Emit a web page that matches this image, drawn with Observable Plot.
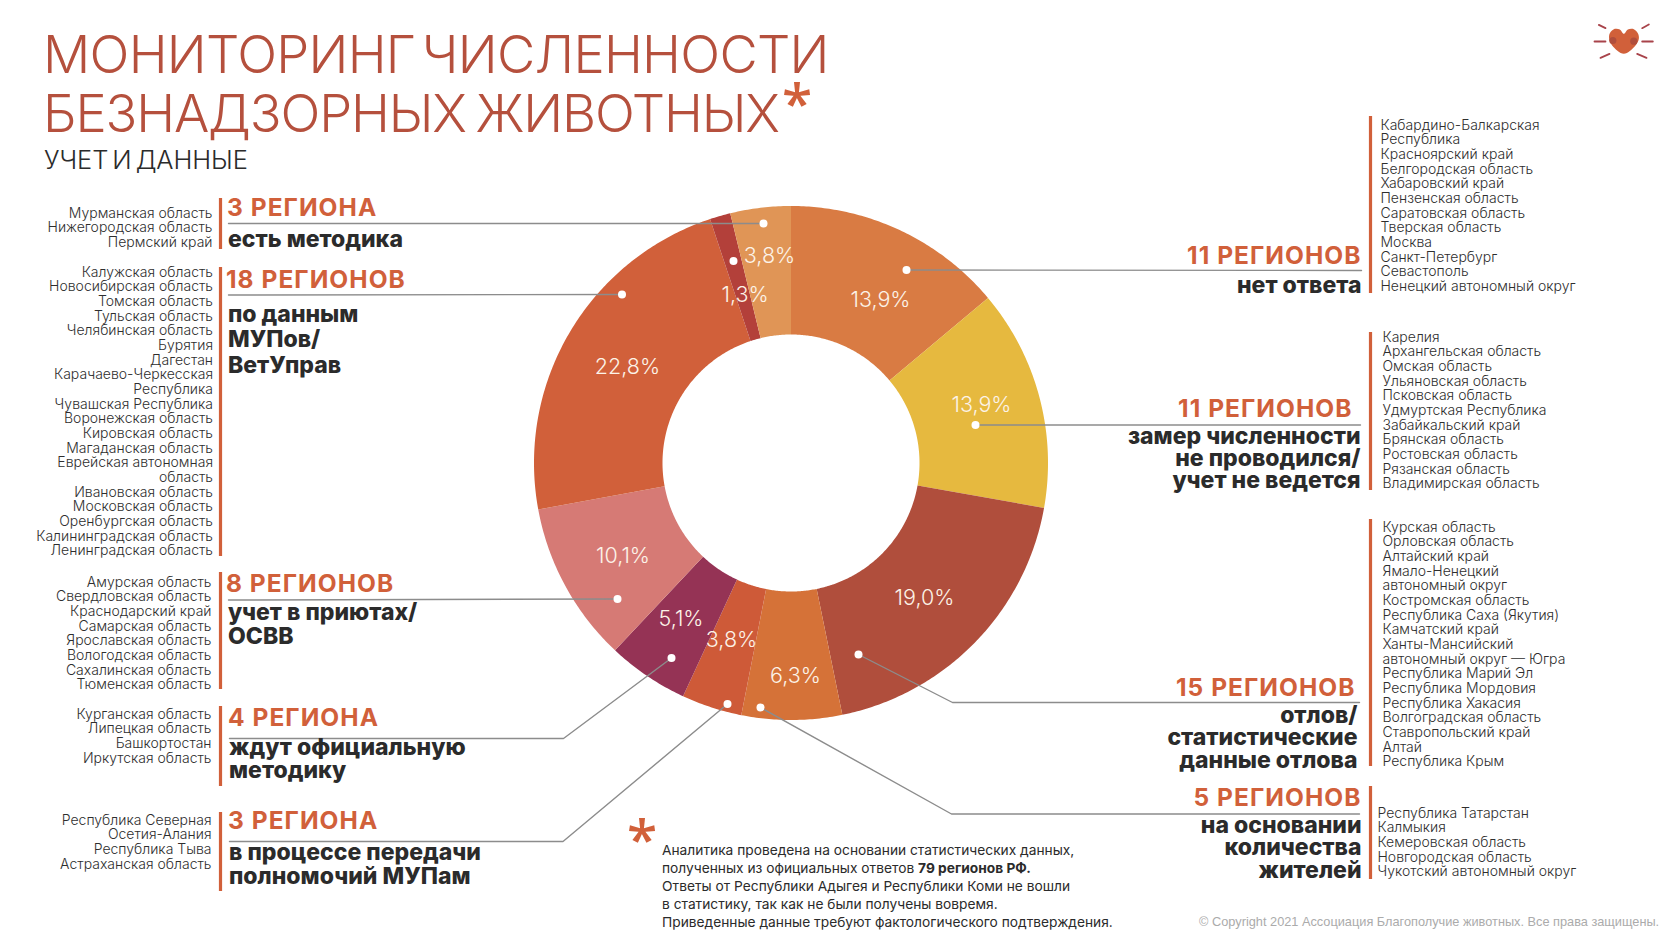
<!DOCTYPE html>
<html lang="ru">
<head>
<meta charset="utf-8">
<script src="https://cdn.jsdelivr.net/npm/d3@7"></script>
<script src="https://cdn.jsdelivr.net/npm/@observablehq/plot@0.6"></script>
<style>
html,body{margin:0;padding:0;background:#fff;width:1680px;height:945px;overflow:hidden}
#page{position:relative;width:1680px;height:945px}
#chart{position:absolute;left:0;top:0}
.t{position:absolute;white-space:pre;margin:0}
#t1,#t2{font:300 52.5px/60px Inter,"Open Sans",sans-serif;color:#B5503D;left:43px}
#t1{top:23.5px;letter-spacing:-0.7px;word-spacing:-7.5px}#t2{top:83px;letter-spacing:-1.15px;word-spacing:-4px}
#sub{font:300 25.5px/30px Inter,sans-serif;color:#2b2b2b;left:44px;top:145px;letter-spacing:-.1px;word-spacing:-3px}
#star1,#star2{font:600 55px/55px "Open Sans",sans-serif;color:#D1603A}
#star1{left:782px;top:74px}
#star2{left:627px;top:810px}
#note{font:400 13.75px/18px Inter,sans-serif;color:#2b2b2b;left:662px;top:841px}
#copy{font:400 12.75px/16px "Liberation Sans",sans-serif;color:#ABABAB;left:1199px;top:914px}
</style>
</head>
<body>
<div id="page">
<div id="chart"></div>
<h1 class="t" id="t1"></h1><h1 class="t" id="t2"></h1>
<div class="t" id="star1">*</div>
<div class="t" id="sub"></div>
<div class="t" id="star2">*</div>
<div class="t" id="note"></div>
<div class="t" id="copy"></div>
</div>
<script>
// ---- texts ----
const titleLines = ["МОНИТОРИНГ ЧИСЛЕННОСТИ", "БЕЗНАДЗОРНЫХ ЖИВОТНЫХ"];
const subtitle = "УЧЕТ И ДАННЫЕ";
const noteLines = [
  "Аналитика проведена на основании статистических данных,",
  "полученных из официальных ответов <b>79 регионов РФ.</b>",
  "Ответы от Республики Адыгея и Республики Коми не вошли",
  "в статистику, так как не были получены вовремя.",
  "Приведенные данные требуют фактологического подтверждения."
];
const copyright = "© Copyright 2021 Ассоциация Благополучие животных. Все права защищены.";

// ---- donut values, clockwise from 12 o'clock ----
const sliceIds = ["noanswer","nomeasure","capture","residents","transfer","waiting","shelters","mup","other","method"];
const shares   = [13.9, 13.9, 19.0, 6.3, 3.8, 5.1, 10.1, 22.8, 1.3, 3.8];
const colors   = ["#D97B43","#E6B93F","#B04E3C","#D57238","#CE5A38","#953355","#D67A75","#D1603A","#B3403A","#E09556"];

// ---- callouts ----
const heads = ["3 РЕГИОНА","18 РЕГИОНОВ","8 РЕГИОНОВ","4 РЕГИОНА","3 РЕГИОНА","11 РЕГИОНОВ","11 РЕГИОНОВ","15 РЕГИОНОВ","5 РЕГИОНОВ"];
const descriptions = [
  "есть методика",
  "по данным\nМУПов/\nВетУправ",
  "учет в приютах/\nОСВВ",
  "ждут официальную\nметодику",
  "в процессе передачи\nполномочий МУПам",
  "нет ответа",
  "замер численности\nне проводился/\nучет не ведется",
  "отлов/\nстатистические\nданные отлова",
  "на основании\nколичества\nжителей"
];
const regionLists = [
  ["Мурманская область","Нижегородская область","Пермский край"],
  ["Калужская область","Новосибирская область","Томская область","Тульская область","Челябинская область","Бурятия","Дагестан","Карачаево-Черкесская","Республика","Чувашская Республика","Воронежская область","Кировская область","Магаданская область","Еврейская автономная","область","Ивановская область","Московская область","Оренбургская область","Калининградская область","Ленинградская область"],
  ["Амурская область","Свердловская область","Краснодарский край","Самарская область","Ярославская область","Вологодская область","Сахалинская область","Тюменская область"],
  ["Курганская область","Липецкая область","Башкортостан","Иркутская область"],
  ["Республика Северная","Осетия-Алания","Республика Тыва","Астраханская область"],
  ["Кабардино-Балкарская","Республика","Красноярский край","Белгородская область","Хабаровский край","Пензенская область","Саратовская область","Тверская область","Москва","Санкт-Петербург","Севастополь","Ненецкий автономный округ"],
  ["Карелия","Архангельская область","Омская область","Ульяновская область","Псковская область","Удмуртская Республика","Забайкальский край","Брянская область","Ростовская область","Рязанская область","Владимирская область"],
  ["Курская область","Орловская область","Алтайский край","Ямало-Ненецкий","автономный округ","Костромская область","Республика Саха (Якутия)","Камчатский край","Ханты-Мансийский","автономный округ — Югра","Республика Марий Эл","Республика Мордовия","Республика Хакасия","Волгоградская область","Ставропольский край","Алтай","Республика Крым"],
  ["Республика Татарстан","Калмыкия","Кемеровская область","Новгородская область","Чукотский автономный округ"]
];

// ---- layout (page pixels), kept apart from the values ----
const C = {x:791, y:463, R:257, r:128.5};
const LEFT = 5; // first five callouts sit on the left of the page
const headAt  = [[226.5,215],[225.5,287],[225.5,591.5],[227.5,725],[227.5,828],[1361,263],[1352,416],[1355,695.5],[1361,805]];
const descAt  = [[227.5,[246]],[227.5,[321.5,346,372]],[227.5,[619,643]],[228.5,[754,777]],[228.5,[859,883]],[1361,[292]],[1360,[443,465,487]],[1357,[722,744,767]],[1361,[832,854,877]]];
const listAt  = [[212,217],[212.5,276],[211,586],[211,718],[211,824],[1380,129],[1382,341],[1382,531],[1377,817]];
const barAt   = [[220,198,249],[220,267,556],[220,572,689],[220,706,786],[220,812,891],[1370,116,293],[1370,332,490],[1370,519,766],[1370,786,879]];
const dotAt = {method:[763,223],other:[733,260.5],noanswer:[906,269.5],nomeasure:[975,424.5],capture:[858,654],residents:[760,707],transfer:[727,703.5],waiting:[671,657.5],shelters:[617,598.5],mup:[621.5,294]};
const leaders = [
  ["method",[[228,223]]],
  ["mup",[[228,294.5]]],
  ["shelters",[[228,599.5]]],
  ["waiting",[[563,738],[229,738]]],
  ["transfer",[[562.5,841],[229,841]]],
  ["noanswer",[[1361,270]]],
  ["nomeasure",[[1360,424.5]]],
  ["capture",[[952,702],[1359,702]]],
  ["residents",[[951,813.5],[1359,813.5]]]
];
const pctAt = [[880,300],[981,405],[924,598],[795,676],[731,640],[680.5,619],[622.5,556],[627,367],[744.5,295],[769,256]];
const heart = [[160,100],[148,87],[133,85],[118,98],[116,115],[125,135],[160,160],[195,135],[205,115],[202,98],[187,85],[172,87]];
const cheeks = [[127,120],[190,122]];
const rays = [[[85,73],[105,83]],[[72,123],[105,123]],[[90,172],[117,160]],[[215,83],[235,72]],[[215,123],[247,123]],[[200,160],[228,172]]];

// ---- build tables ----
const total = d3.sum(shares);
let cum = 0;
const arcPts = [], pcts = [], dots = [];
sliceIds.forEach((id,i)=>{
  const a0 = cum/total*2*Math.PI; cum += shares[i];
  const a1 = cum/total*2*Math.PI;
  const n = Math.max(2, Math.ceil((a1-a0)/0.01));
  for(let k=0;k<=n;k++){
    const a = a0+(a1-a0)*k/n;
    arcPts.push({id, x1:C.x+C.R*Math.sin(a), y1:C.y-C.R*Math.cos(a), x2:C.x+C.r*Math.sin(a), y2:C.y-C.r*Math.cos(a)});
  }
  pcts.push({label:shares[i].toFixed(1).replace(".",",")+"%", x:pctAt[i][0], y:pctAt[i][1]});
  dots.push({x:dotAt[id][0], y:dotAt[id][1]});
});
const leaderPts = leaders.flatMap(([id,pts])=>[dotAt[id],...pts].map(p=>({id,x:p[0],y:p[1]})));
const bars = barAt.map(([x,y1,y2])=>({x,y1,y2}));
const LH = 14.67;
const listRows = regionLists.map((l,i)=>({text:l.join("\n"),x:listAt[i][0],y:listAt[i][1]+(l.length-1)*LH,left:i<LEFT}));
const headRows = heads.map((h,i)=>({text:h,x:headAt[i][0],y:headAt[i][1],left:i<LEFT}));
const descRows = descriptions.flatMap((d,i)=>d.split("\n").map((t,j)=>({text:t,x:descAt[i][0],y:descAt[i][1][j],left:i<LEFT})));
const lg = p=>({x:1570+p[0]/3,y:p[1]/3});

const listStyle = {fontFamily:"Inter, sans-serif",fontSize:14,fontWeight:300,fill:"#2e2e2e",lineAnchor:"bottom",lineHeight:LH/14};
const headStyle = {fontFamily:"Inter, sans-serif",fontSize:24.5,fontWeight:700,fill:"#D1603A",lineAnchor:"bottom"};
const descStyle = {fontFamily:"Inter, sans-serif",fontSize:23,fontWeight:800,fill:"#2B2B2B",lineAnchor:"bottom"};

const plot = Plot.plot({
  width:1680, height:945, margin:0,
  x:{domain:[0,1680],range:[0,1680],axis:null},
  y:{domain:[0,945],range:[0,945],axis:null},
  color:{domain:sliceIds,range:colors},
  style:{background:"#fff"},
  marks:[
    Plot.area(arcPts,{x1:"x1",y1:"y1",x2:"x2",y2:"y2",z:"id",fill:"id"}),
    Plot.line(leaderPts,{x:"x",y:"y",z:"id",stroke:"#8C8C8C",strokeWidth:1.4}),
    Plot.dot(dots,{x:"x",y:"y",r:4,fill:"#fff"}),
    Plot.text(pcts,{x:"x",y:"y",text:"label",fill:"#FCF3E8",fontFamily:"Inter, sans-serif",fontSize:21.5,fontWeight:300}),
    Plot.ruleX(bars,{x:"x",y1:"y1",y2:"y2",stroke:"#D1603A",strokeWidth:3.2}),
    Plot.text(listRows.filter(d=>d.left),{x:"x",y:"y",text:"text",textAnchor:"end",...listStyle}),
    Plot.text(listRows.filter(d=>!d.left),{x:"x",y:"y",text:"text",textAnchor:"start",...listStyle}),
    Plot.text(headRows.filter(d=>d.left),{x:"x",y:"y",text:"text",textAnchor:"start",...headStyle}),
    Plot.text(headRows.filter(d=>!d.left),{x:"x",y:"y",text:"text",textAnchor:"end",...headStyle}),
    Plot.text(descRows.filter(d=>d.left),{x:"x",y:"y",text:"text",textAnchor:"start",...descStyle}),
    Plot.text(descRows.filter(d=>!d.left),{x:"x",y:"y",text:"text",textAnchor:"end",...descStyle}),
    // logo
    Plot.line(heart.map(lg),{x:"x",y:"y",fill:"#D1603A",stroke:"none",curve:"catmull-rom-closed"}),
    Plot.dot(cheeks.map(lg),{x:"x",y:"y",r:3.6,fill:"#B04E3C"}),
    Plot.line(rays.flatMap((r,i)=>r.map(p=>({...lg(p),i}))),{x:"x",y:"y",z:"i",stroke:"#A8434A",strokeWidth:1.8})
  ]
});
document.getElementById("chart").append(plot);
// heading marks carry a little tracking, as in the reference
const textGroups = plot.querySelectorAll('g[aria-label="text"]');
[3,4].forEach(i=>{ if(textGroups[i]) textGroups[i].style.letterSpacing="1.05px"; });
document.getElementById("t1").textContent = titleLines[0];
document.getElementById("t2").textContent = titleLines[1];
document.getElementById("sub").textContent = subtitle;
document.getElementById("note").innerHTML = noteLines.join("\n");
document.getElementById("copy").textContent = copyright;
</script>
</body>
</html>
